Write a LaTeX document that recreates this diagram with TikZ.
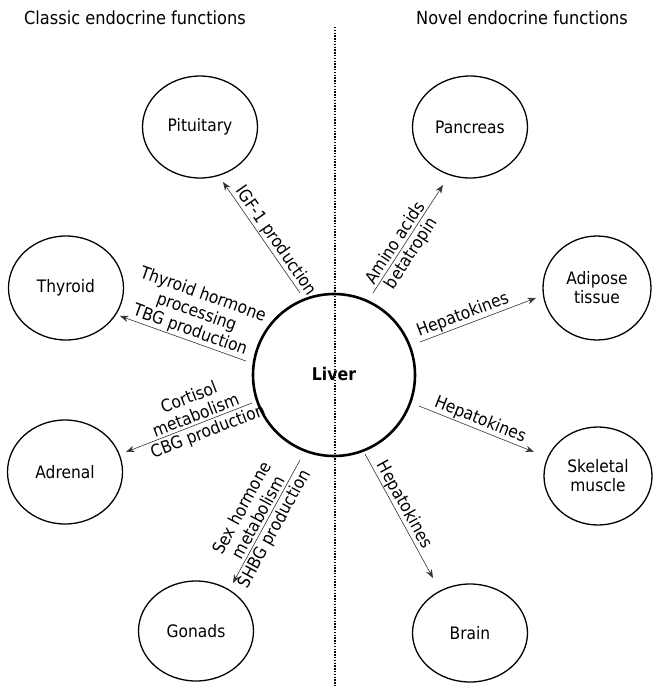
\documentclass[tikz,border=0pt]{standalone}
\usepackage{fontspec}
\setmainfont[FakeStretch=0.9]{DejaVu Sans}
\usetikzlibrary{arrows.meta}
\definecolor{arrcol}{HTML}{3A302F}
\tikzset{
  lbl/.style={font=\fontsize{17.2}{19}\selectfont, align=center, inner sep=1.2pt},
  split/.style={inner sep=2.6pt},
  arr/.style={draw=arrcol, line width=0.6pt, -{Stealth[length=8.5pt,width=6.5pt]}},
  organ/.style={line width=1.3pt},
  title/.style={font=\fontsize{18}{20}\selectfont, anchor=base}
}
\begin{document}
\begin{tikzpicture}[x=1pt,y=-1pt]
\useasboundingbox (0,0) rectangle (653,686);
% headings
\node[title] (hc) at (135,24) {Classic endocrine functions};
\node[title] (hn) at (522,24) {Novel endocrine functions};
% divider
\coordinate (dtop) at (335,27);
\coordinate (dbot) at (335,686);
\draw[line width=1.4pt, dash pattern=on 1.4pt off 1.4pt] (dtop) -- (dbot);
% liver
\draw[line width=2.6pt] (334,375) circle (81);
\node[font=\fontsize{17.5}{19}\selectfont\bfseries] (liver) at (334,374) {Liver};
% organs
\draw[organ] (200,127) ellipse (57.5 and 51);
\node[lbl] (pit) at (200,127) {Pituitary};
\draw[organ] (470,127) ellipse (57.5 and 51);
\node[lbl] (pan) at (470,127) {Pancreas};
\draw[organ] (66,288) ellipse (57.5 and 52);
\node[lbl] (thy) at (66,288) {Thyroid};
\draw[organ] (597,288) ellipse (54 and 52);
\node[lbl] (adi) at (597,288) {Adipose\\tissue};
\draw[organ] (65,472) ellipse (57.5 and 52);
\node[lbl] (adr) at (65,472) {Adrenal};
\draw[organ] (598,476) ellipse (54 and 49);
\node[lbl] (ske) at (598,476) {Skeletal\\muscle};
\draw[organ] (196,631) ellipse (57.5 and 50);
\node[lbl] (gon) at (196,631) {Gonads};
\draw[organ] (470,633) ellipse (57.5 and 49);
\node[lbl] (bra) at (470,633) {Brain};
% arrow endpoints
\coordinate (igfA) at (300,293); \coordinate (igfB) at (223,182);
\coordinate (thyA) at (246,361); \coordinate (thyB) at (120,316);
\coordinate (adrA) at (252,403); \coordinate (adrB) at (126,452);
\coordinate (gonA) at (300,460); \coordinate (gonB) at (233,583);
\coordinate (panA) at (373,293); \coordinate (panB) at (443,185);
\coordinate (adiA) at (420,342); \coordinate (adiB) at (536,298);
\coordinate (skeA) at (419,406); \coordinate (skeB) at (534,452);
\coordinate (braA) at (365,454); \coordinate (braB) at (433,578);
% arrows with labels
\draw[arr] (igfA) -- node[lbl, sloped, above, pos=0.42] (tigf) {IGF-1 production} (igfB);
\draw[arr] (thyA) -- node[lbl, sloped, above, pos=0.47] (tthy) {Thyroid hormone\\processing\\TBG production} (thyB);
\draw[arr] (adrA) -- node[lbl, split, sloped, above, pos=0.42] (tadr1) {Cortisol\\metabolism}
                    node[lbl, split, sloped, below, pos=0.38] (tadr2) {CBG production} (adrB);
\draw[arr] (gonA) -- node[lbl, split, sloped, above, pos=0.5] (tgon1) {Sex hormone\\metabolism}
                    node[lbl, split, sloped, below, pos=0.52] (tgon2) {SHBG production} (gonB);
\draw[arr] (panA) -- node[lbl, split, sloped, above, pos=0.42] (tpan1) {Amino acids}
                    node[lbl, split, sloped, below, pos=0.42] (tpan2) {betatropin} (panB);
\draw[arr] (adiA) -- node[lbl, sloped, above, pos=0.4] (tadi) {Hepatokines} (adiB);
\draw[arr] (skeA) -- node[lbl, sloped, above, pos=0.5] (tske) {Hepatokines} (skeB);
\draw[arr] (braA) -- node[lbl, sloped, above, pos=0.45] (tbra) {Hepatokines} (braB);
\end{tikzpicture}
\end{document}
